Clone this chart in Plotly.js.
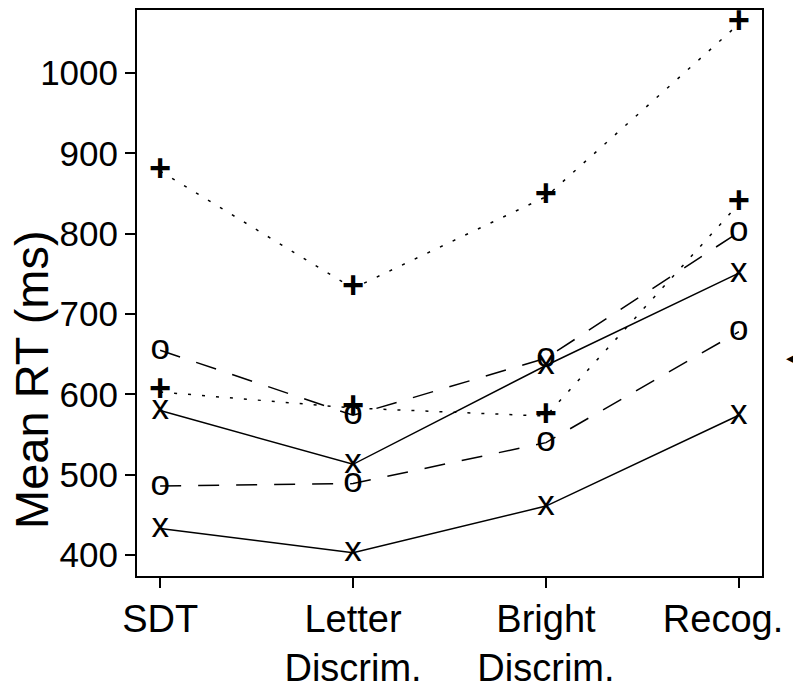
<!DOCTYPE html>
<html>
<head>
<meta charset="utf-8">
<script src="https://cdn.plot.ly/plotly-3.0.1.min.js"></script>
<style>html,body{margin:0;padding:0;background:#fff;overflow:hidden;}#chart{width:793px;height:692px;}</style>
</head>
<body>
<div id="chart"></div>
<script>
// Categories (x positions 1..4) and tick labels
const categories = [1, 2, 3, 4];
const tickLabels = ["SDT", "Letter<br>Discrim.", "Bright<br>Discrim.", "Recog.&nbsp;&nbsp;&nbsp;"];

// Series values (Mean RT, ms)
const plusHigh = [878, 732, 846, 1061];
const plusLow  = [603, 583, 573, 837];
const oHigh    = [655, 574, 645, 802];
const oLow     = [486, 489, 540, 678];
const xHigh    = [580, 513, 636, 751];
const xLow     = [433, 403, 461, 574];

// y-axis tick values
const yTicks = [400, 500, 600, 700, 800, 900, 1000];

const series = [
  {y: plusHigh, sym: "+", dash: "3px,11px"},
  {y: plusLow,  sym: "+", dash: "3px,11px"},
  {y: oHigh,    sym: "o", dash: "21px,17px"},
  {y: oLow,     sym: "o", dash: "21px,17px"},
  {y: xHigh,    sym: "x", dash: "solid"},
  {y: xLow,     sym: "x", dash: "solid"}
];

const font = "Liberation Sans, Arial, Helvetica, sans-serif";

const traces = series.map(s => ({
  x: categories,
  y: s.y,
  mode: "lines+text",
  text: s.y.map(() => s.sym),
  textposition: "middle center",
  textfont: {family: font, size: s.sym === "+" ? 38 : 35, color: "#000", weight: s.sym === "+" ? 700 : 400},
  line: {color: "#000", width: 1.5, dash: s.dash},
  showlegend: false,
  hoverinfo: "skip",
  cliponaxis: false
}));

const layout = {
  width: 793,
  height: 692,
  margin: {l: 137, r: 31, t: 10, b: 116, pad: 0},
  paper_bgcolor: "#fff",
  plot_bgcolor: "#fff",
  showlegend: false,
  font: {family: font, color: "#000"},
  xaxis: {
    range: [0.88, 4.12],
    tickvals: categories,
    ticktext: tickLabels,
    showgrid: false,
    zeroline: false,
    showline: true,
    mirror: true,
    linecolor: "#000",
    linewidth: 2,
    ticks: "outside",
    ticklen: 10,
    tickwidth: 2,
    tickcolor: "#000",
    tickfont: {family: font, size: 38, color: "#000"},
    ticklabelstandoff: -2,
    ticklabeloverflow: "allow"
  },
  yaxis: {
    range: [374, 1078.4],
    tickvals: yTicks,
    ticktext: yTicks.map(String),
    showgrid: false,
    zeroline: false,
    showline: true,
    mirror: true,
    linecolor: "#000",
    linewidth: 2,
    ticks: "outside",
    ticklen: 10,
    tickwidth: 2,
    tickcolor: "#000",
    tickfont: {family: font, size: 35, color: "#000"},
    ticklabelstandoff: 0
  },
  annotations: [
    {
      xref: "paper", yref: "paper",
      x: (31 - 137) / 625, y: (576 - 380) / 566,
      xanchor: "center", yanchor: "middle",
      text: "Mean RT (ms)",
      textangle: -90,
      showarrow: false,
      font: {family: font, size: 47, color: "#000"}
    },
    {
      xref: "paper", yref: "paper",
      x: (784 - 137) / 625, y: (576 - 357) / 566,
      xanchor: "left", yanchor: "middle",
      text: "◀",
      showarrow: false,
      font: {family: "DejaVu Sans", size: 22, color: "#000"}
    }
  ]
};

Plotly.newPlot("chart", traces, layout, {staticPlot: true, displayModeBar: false});
</script>
</body>
</html>
